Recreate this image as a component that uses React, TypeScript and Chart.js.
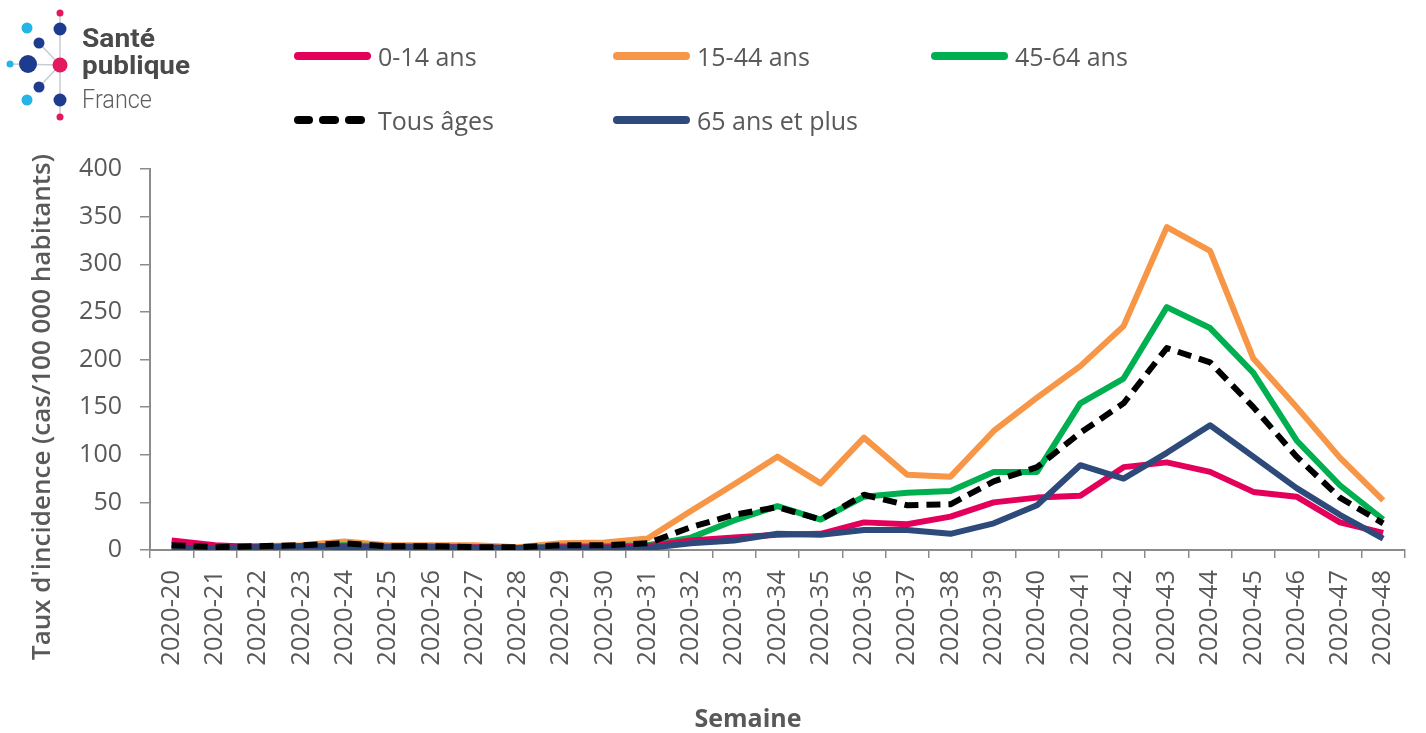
import React, { useEffect, useRef } from "react";
import { Chart, registerables } from "chart.js";

Chart.register(...registerables);

// ---------- DATA ----------
const WEEKS = [
  "2020-20", "2020-21", "2020-22", "2020-23", "2020-24", "2020-25", "2020-26",
  "2020-27", "2020-28", "2020-29", "2020-30", "2020-31", "2020-32", "2020-33",
  "2020-34", "2020-35", "2020-36", "2020-37", "2020-38", "2020-39", "2020-40",
  "2020-41", "2020-42", "2020-43", "2020-44", "2020-45", "2020-46", "2020-47",
  "2020-48",
];

const AGE_0_14 = [10, 5, 3, 4, 4, 3, 3, 3, 2, 3, 3, 4, 10, 13, 16, 17, 29, 27, 35, 50, 55, 57, 87, 92, 82, 61, 56, 29, 18];
const AGE_15_44 = [5, 3, 4, 5, 9, 5, 5, 5, 3, 7, 8, 12, 41, 69, 98, 70, 118, 79, 77, 125, 160, 193, 235, 339, 314, 201, 150, 97, 52];
const AGE_45_64 = [3, 3, 4, 3, 5, 4, 4, 3, 2, 4, 4, 5, 13, 31, 46, 32, 56, 60, 62, 82, 82, 154, 180, 255, 233, 186, 115, 68, 32];
const ALL_AGES = [5, 3, 4, 5, 7, 4, 4, 3, 3, 5, 5, 7, 24, 37, 45, 32, 58, 47, 48, 72, 87, 123, 154, 212, 197, 150, 98, 55, 28];
const AGE_65_PLUS = [2, 2, 3, 4, 3, 3, 3, 2, 2, 2, 2, 2, 7, 10, 17, 16, 21, 21, 17, 28, 47, 89, 75, 102, 131, 98, 65, 37, 12];

const Y_TICKS = [0, 50, 100, 150, 200, 250, 300, 350, 400];

const LABEL_0_14 = "0-14 ans";
const LABEL_15_44 = "15-44 ans";
const LABEL_45_64 = "45-64 ans";
const LABEL_ALL = "Tous âges";
const LABEL_65 = "65 ans et plus";

const Y_TITLE = "Taux d'incidence (cas/100 000 habitants)";
const X_TITLE = "Semaine";

// ---------- STYLE ----------
const C_RED = "#E4005A";
const C_ORANGE = "#F79646";
const C_GREEN = "#00B050";
const C_BLUE = "#2E4A7A";
const C_BLACK = "#000000";
const TEXT = "#595959";
const AXIS = "#8C8C8C";
const FONT = "'Open Sans', 'Noto Sans', sans-serif";

type Series = { label: string; data: number[]; color: string; dashed: boolean; order: number };

const SERIES: Series[] = [
  { label: LABEL_0_14, data: AGE_0_14, color: C_RED, dashed: false, order: 2 },
  { label: LABEL_15_44, data: AGE_15_44, color: C_ORANGE, dashed: false, order: 4 },
  { label: LABEL_45_64, data: AGE_45_64, color: C_GREEN, dashed: false, order: 3 },
  { label: LABEL_ALL, data: ALL_AGES, color: C_BLACK, dashed: true, order: 0 },
  { label: LABEL_65, data: AGE_65_PLUS, color: C_BLUE, dashed: false, order: 1 },
];

function LegendLine({ color, dashed }: { color: string; dashed: boolean }) {
  return (
    <svg width={78} height={10} style={{ display: "block", flex: "0 0 auto" }}>
      {dashed ? (
        <g fill={color}>
          <rect x={1} y={1} width={19} height={8} rx={4} />
          <rect x={26} y={1} width={20} height={8} rx={4} />
          <rect x={52} y={1} width={20} height={8} rx={4} />
        </g>
      ) : (
        <rect x={1} y={1} width={77} height={8} rx={4} fill={color} />
      )}
    </svg>
  );
}

function Logo() {
  const navy = "#1D3C8E";
  const cyan = "#25B4E8";
  const pink = "#E5185D";
  const grey = "#C9CDD3";
  return (
    <svg width={200} height={130} style={{ position: "absolute", left: 0, top: 0 }}>
      <g stroke={grey} strokeWidth={1.6}>
        <line x1={60} y1={13} x2={60} y2={117} />
        <line x1={10} y1={64} x2={60} y2={65} />
        <line x1={39} y1={43} x2={60} y2={65} />
        <line x1={39} y1={87} x2={60} y2={65} />
      </g>
      <circle cx={60} cy={13} r={3.5} fill={pink} />
      <circle cx={60} cy={117} r={3.5} fill={pink} />
      <circle cx={60} cy={29} r={6.5} fill={navy} />
      <circle cx={60} cy={100} r={6.5} fill={navy} />
      <circle cx={27} cy={28} r={5.5} fill={cyan} />
      <circle cx={27} cy={100} r={5.5} fill={cyan} />
      <circle cx={10} cy={64} r={3.5} fill={cyan} />
      <circle cx={39} cy={43} r={5.5} fill={navy} />
      <circle cx={39} cy={87} r={5.5} fill={navy} />
      <circle cx={28} cy={64} r={9} fill={navy} />
      <circle cx={60} cy={65} r={7.5} fill={pink} />
      <text x={82} y={47} fontFamily="Roboto, 'DejaVu Sans', sans-serif" fontWeight={700} fontSize={26} fill="#4A4A4A" textLength={73} lengthAdjust="spacingAndGlyphs">Santé</text>
      <text x={82} y={74} fontFamily="Roboto, 'DejaVu Sans', sans-serif" fontWeight={700} fontSize={26} fill="#4A4A4A" textLength={108} lengthAdjust="spacingAndGlyphs">publique</text>
      <text x={82} y={108} fontFamily="Roboto, 'DejaVu Sans', sans-serif" fontWeight={300} fontSize={26} fill="#5E5E5E" textLength={70} lengthAdjust="spacingAndGlyphs">France</text>
    </svg>
  );
}

const axisTitlesPlugin = {
  id: "axisTitles",
  afterDraw(chart: any) {
    const ctx = chart.ctx as CanvasRenderingContext2D;
    ctx.save();
    ctx.fillStyle = TEXT;
    ctx.font = `600 26px ${FONT}`;
    ctx.translate(50, 660);
    ctx.rotate(-Math.PI / 2);
    ctx.textAlign = "left";
    ctx.textBaseline = "alphabetic";
    ctx.fillText(Y_TITLE, 0, 0);
    ctx.restore();

    ctx.save();
    ctx.fillStyle = TEXT;
    ctx.font = `700 25px ${FONT}`;
    ctx.textAlign = "center";
    ctx.textBaseline = "alphabetic";
    ctx.fillText(X_TITLE, 748, 727);
    ctx.restore();
  },
};

export default function App() {
  const canvasRef = useRef<HTMLCanvasElement | null>(null);

  useEffect(() => {
    if (!canvasRef.current) return;
    const chart = new Chart(canvasRef.current, {
      type: "line",
      data: {
        labels: WEEKS,
        datasets: SERIES.map((s) => ({
          label: s.label,
          data: s.data,
          borderColor: s.color,
          backgroundColor: s.color,
          borderWidth: 6,
          borderDash: s.dashed ? [14, 8] : [],
          borderCapStyle: "butt" as const,
          borderJoinStyle: "round" as const,
          pointRadius: 0,
          pointHoverRadius: 0,
          tension: 0,
          fill: false,
          order: s.order,
        })),
      },
      options: {
        animation: false,
        responsive: false,
        maintainAspectRatio: false,
        events: [],
        layout: { padding: { top: 169, right: 14, bottom: 0, left: 0 } },
        plugins: {
          legend: { display: false },
          tooltip: { enabled: false },
          title: { display: false },
        },
        scales: {
          x: {
            type: "category",
            offset: true,
            grid: {
              display: true,
              drawOnChartArea: false,
              drawTicks: true,
              tickLength: 8,
              color: AXIS,
              lineWidth: 1.5,
              offset: true,
            },
            border: { display: true, color: AXIS, width: 2 },
            ticks: {
              autoSkip: false,
              maxRotation: 90,
              minRotation: 90,
              padding: 12,
              color: TEXT,
              font: { family: FONT, size: 25.5 },
            },
            afterFit(scale: any) {
              scale.height = 183;
            },
          },
          y: {
            type: "linear",
            min: 0,
            max: 400,
            afterBuildTicks(scale: any) {
              scale.ticks = Y_TICKS.map((v) => ({ value: v }));
            },
            grid: {
              display: true,
              drawOnChartArea: false,
              drawTicks: true,
              tickLength: 10,
              color: AXIS,
              lineWidth: 1.5,
            },
            border: { display: true, color: AXIS, width: 2 },
            ticks: {
              padding: 18,
              color: TEXT,
              font: { family: FONT, size: 25 },
            },
            afterFit(scale: any) {
              scale.width = 150;
            },
          },
        },
      },
      plugins: [axisTitlesPlugin],
    });
    return () => chart.destroy();
  }, []);

  const row1 = SERIES.filter((s) => s.label !== LABEL_ALL && s.label !== LABEL_65);
  const row2 = SERIES.filter((s) => s.label === LABEL_ALL || s.label === LABEL_65);

  const renderRow = (items: Series[], top: number) => (
    <div style={{ position: "absolute", left: 293, top, display: "grid", gridTemplateColumns: "319px 318px 320px", height: 40 }}>
      {items.map((s) => (
        <div key={s.label} style={{ display: "flex", alignItems: "center", gap: 7, height: 40 }}>
          <LegendLine color={s.color} dashed={s.dashed} />
          <span style={{ fontFamily: FONT, fontSize: 25, color: TEXT, lineHeight: "40px", whiteSpace: "nowrap" }}>{s.label}</span>
        </div>
      ))}
    </div>
  );

  return (
    <div style={{ position: "fixed", left: 0, top: 0, width: 1426, height: 733, background: "#fff", overflow: "hidden" }}>
      <canvas ref={canvasRef} width={1426} height={733} style={{ position: "absolute", left: 0, top: 0, width: 1426, height: 733 }} />
      <Logo />
      {renderRow(row1, 36)}
      {renderRow(row2, 100)}
    </div>
  );
}
